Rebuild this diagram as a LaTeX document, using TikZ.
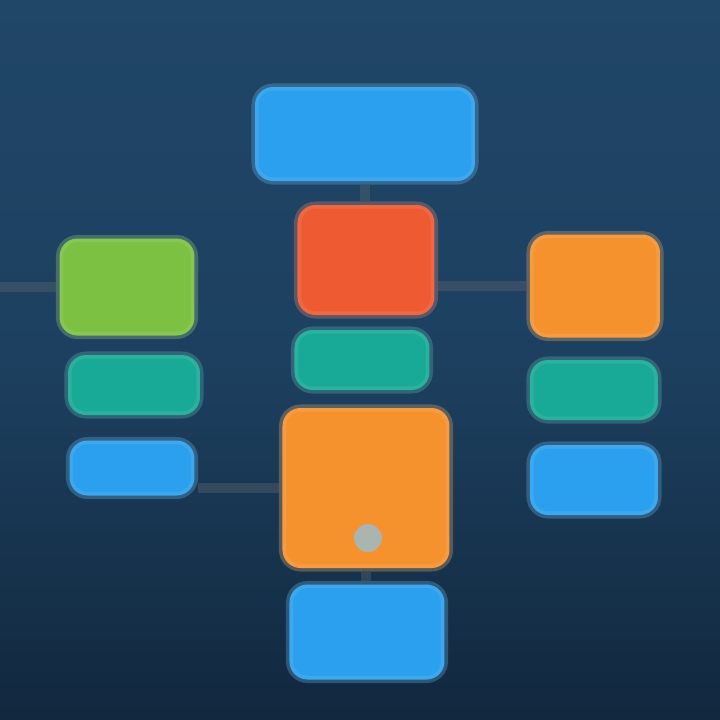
\documentclass[tikz,border=0pt]{standalone}
\usepackage{tikz}
\usetikzlibrary{positioning}
\definecolor{bgnavy}{RGB}{32,70,104}
\definecolor{bgdark}{RGB}{17,40,62}
\definecolor{fcblue}{RGB}{43,160,238}
\definecolor{fcred}{RGB}{238,90,50}
\definecolor{fcgreen}{RGB}{125,193,66}
\definecolor{fcorange}{RGB}{245,146,46}
\definecolor{fcteal}{RGB}{24,170,150}
\definecolor{fcgrey}{RGB}{170,180,176}
\definecolor{fclink}{RGB}{90,100,110}
\tikzstyle{card} = [rectangle, rounded corners=1.8mm, line width=2pt, draw opacity=0.3]
\tikzstyle{link} = [line width=3pt, color=fclink, opacity=0.4]

\begin{document}
\begin{tikzpicture}[x=0.1mm, y=-0.1mm]
% background
\shade[top color=bgnavy, bottom color=bgdark, middle color=bgnavy!80!bgdark] (0,0) rectangle (720,720);
\useasboundingbox (0,0) rectangle (720,720);

% centre column
\node (top) [card, fill=fcblue, draw=fcblue!70, minimum width=22mm, minimum height=9.4mm] at (365,134) {};
\node (red) [card, fill=fcred, draw=fcred!70, minimum width=13.7mm, minimum height=11mm] at (366,260) {};
\node (tealc) [card, fill=fcteal, draw=fcteal!70, minimum width=13.5mm, minimum height=6mm] at (362,360) {};
\node (orangec) [card, fill=fcorange, draw=fcorange!70, minimum width=16.7mm, minimum height=16mm] at (366,488) {};
\node (dot) [circle, fill=fcgrey, minimum size=2.8mm, inner sep=0pt] at (368,538) {};
\node (blueb) [card, fill=fcblue, draw=fcblue!70, minimum width=15.5mm, minimum height=9.5mm] at (367,632) {};

% left column
\node (green) [card, fill=fcgreen, draw=fcgreen!70, minimum width=13.5mm, minimum height=9.7mm] at (127,287) {};
\node (teall) [card, fill=fcteal, draw=fcteal!70, minimum width=13.2mm, minimum height=6mm] at (134,385) {};
\node (bluel) [card, fill=fcblue, draw=fcblue!70, minimum width=12.5mm, minimum height=5.5mm] at (132,468) {};

% right column
\node (oranger) [card, fill=fcorange, draw=fcorange!70, minimum width=13mm, minimum height=10.3mm] at (595,286) {};
\node (tealr) [card, fill=fcteal, draw=fcteal!70, minimum width=12.8mm, minimum height=6mm] at (594,390) {};
\node (bluer) [card, fill=fcblue, draw=fcblue!70, minimum width=12.8mm, minimum height=7mm] at (594,480) {};

% faint links
\coordinate (edge) at (0,287);
\draw[link] (edge) -- (green.west);
\draw[link] (red.east |- oranger.west) -- (oranger.west);
\draw[link] (bluel.east |- orangec.west) -- (orangec.west);
\draw[link] (top.south) -- (top.south |- red.north);
\draw[link] (orangec.south) -- (orangec.south |- blueb.north);
\end{tikzpicture}
\end{document}
